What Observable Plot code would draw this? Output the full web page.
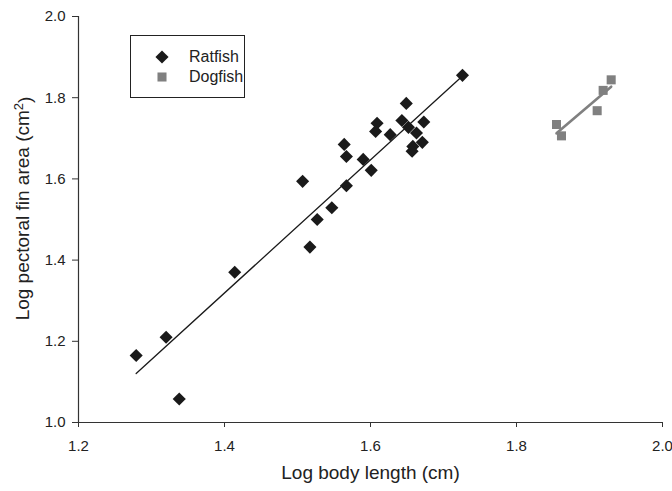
<!DOCTYPE html>
<html><head><meta charset="utf-8">
<script src="https://cdn.jsdelivr.net/npm/d3@7"></script>
<script src="https://cdn.jsdelivr.net/npm/@observablehq/plot@0.6"></script>
<style>
body{margin:0;background:#fff;}
#wrap{position:relative;width:672px;height:491px;font-family:"Liberation Sans",Arial,sans-serif;}
#legend{position:absolute;left:130px;top:35px;width:115px;height:63px;border:1.3px solid #222;box-sizing:border-box;background:#fff;}
.row{position:absolute;left:0;height:20px;display:flex;align-items:center;font-size:16px;color:#222;white-space:nowrap;}
.row svg{margin-left:21px;margin-right:17px;}
</style></head><body><div id="wrap"></div>
<script>
// Ratfish (black diamonds)
const ratfishX = [1.726,1.649,1.609,1.607,1.643,1.673,1.627,1.652,1.663,1.671,1.658,1.657,1.564,1.567,1.590,1.601,1.507,1.567,1.547,1.527,1.517,1.414,1.320,1.279,1.338];
const ratfishY = [1.855,1.786,1.737,1.717,1.744,1.740,1.709,1.727,1.713,1.690,1.680,1.668,1.685,1.655,1.648,1.621,1.594,1.583,1.529,1.500,1.432,1.370,1.210,1.165,1.058];
// Dogfish (grey squares)
const dogfishX = [1.9297,1.9187,1.9105,1.8548,1.8616];
const dogfishY = [1.844,1.818,1.768,1.734,1.706];

const seriesNames = ["Ratfish","Dogfish"];
const seriesColors = ["#1a1a1a","#808080"];
const seriesSymbols = ["diamond2","square"];

const xTicks = [1.2,1.4,1.6,1.8,2.0];
const yTicks = [1.0,1.2,1.4,1.6,1.8,2.0];
const xTitle = "Log body length (cm)";
const yTitleParts = ["Log pectoral fin area (cm", "2", ")"];

const ratfish = ratfishX.map((x,i)=>({x, y: ratfishY[i]}));
const dogfish = dogfishX.map((x,i)=>({x, y: dogfishY[i]}));
const fmt = d3.format(".1f");
const axisColor = "#333";

const chart = Plot.plot({
  width: 672, height: 491,
  marginLeft: 78, marginRight: 10, marginTop: 16, marginBottom: 69,
  style: {fontFamily: '"Liberation Sans", Arial, sans-serif', fontSize: "15px", color: "#222", background: "#fff"},
  x: {domain: [1.2, 2.0]},
  y: {domain: [1.0, 2.0]},
  marks: [
    Plot.ruleX([1.2], {stroke: axisColor, strokeWidth: 1.2}),
    Plot.ruleY([1.0], {stroke: axisColor, strokeWidth: 1.2}),
    Plot.axisX({ticks: xTicks, tickFormat: fmt, tickSize: 5, tickPadding: 13, label: null, stroke: axisColor, fontSize: 15}),
    Plot.axisY({ticks: yTicks, tickFormat: fmt, tickSize: 6, tickPadding: 7, label: null, stroke: axisColor, fontSize: 15}),
    Plot.dot(ratfish, {x: "x", y: "y", symbol: () => seriesSymbols[0], r: 5.9, fill: seriesColors[0], stroke: "none"}),
    Plot.dot(dogfish, {x: "x", y: "y", symbol: () => seriesSymbols[1], r: 5.1, fill: seriesColors[1], stroke: "none"}),
    Plot.linearRegressionY(ratfish, {x: "x", y: "y", ci: 0, stroke: seriesColors[0], strokeWidth: 1.3}),
    Plot.linearRegressionY(dogfish, {x: "x", y: "y", ci: 0, stroke: seriesColors[1], strokeWidth: 2.6}),
    Plot.text([xTitle], {frameAnchor: "bottom", dy: 56, fontSize: 19, fill: "#222"}),
    Plot.text([yTitleParts.join("")], {frameAnchor: "left", textAnchor: "middle", dx: -56, dy: -11, rotate: -90, fontSize: 19, fill: "#222", className: "ytitle"})
  ]
});

// Render the y title's superscript as a real raised tspan
const yt = chart.querySelector(".ytitle text");
if (yt) {
  yt.textContent = "";
  const ns = "http://www.w3.org/2000/svg";
  const t1 = document.createElementNS(ns, "tspan"); t1.textContent = yTitleParts[0];
  const t2 = document.createElementNS(ns, "tspan"); t2.textContent = yTitleParts[1];
  t2.setAttribute("dy", "-0.45em"); t2.setAttribute("font-size", "13");
  const t3 = document.createElementNS(ns, "tspan"); t3.textContent = yTitleParts[2];
  t3.setAttribute("dy", "0.45em");
  yt.append(t1, t2, t3);
}

const wrap = document.getElementById("wrap");
wrap.appendChild(chart);

// Legend
const legend = document.createElement("div");
legend.id = "legend";
seriesNames.forEach((name, i) => {
  const row = document.createElement("div");
  row.className = "row";
  row.style.top = (11 + i * 20) + "px";
  const size = i === 0 ? Math.PI * 5.9 * 5.9 : Math.PI * 5.1 * 5.1;
  const sym = i === 0 ? d3.symbolDiamond2 : d3.symbolSquare;
  row.innerHTML = `<svg width="20" height="20" viewBox="-10 -10 20 20"><path d="${d3.symbol(sym, size)()}" fill="${seriesColors[i]}"/></svg><span>${name}</span>`;
  legend.appendChild(row);
});
wrap.appendChild(legend);
</script>
</body></html>
